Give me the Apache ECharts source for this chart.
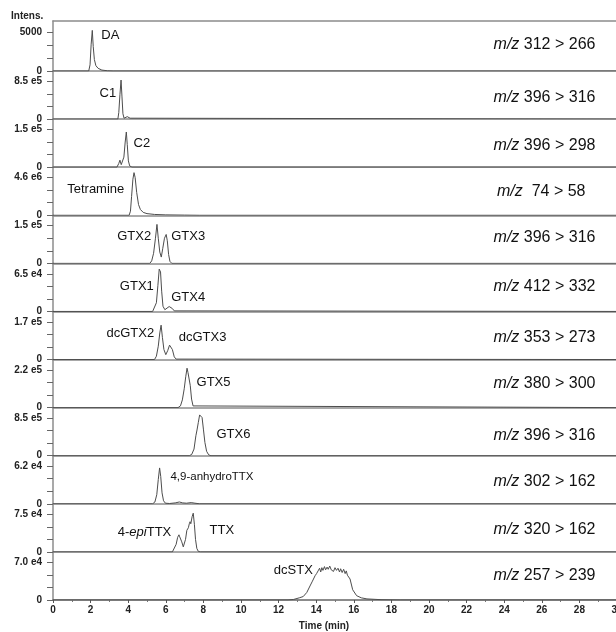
<!DOCTYPE html>
<html>
<head>
<meta charset="utf-8">
<script src="https://cdn.jsdelivr.net/npm/echarts@6/dist/echarts.min.js"></script>
<style>
html,body{margin:0;padding:0;background:#fff;}
#chart{width:616px;height:632px;}
</style>
</head>
<body>
<div id="chart"></div>
<script>
// ---------- data ----------
const timeTicks = [0,2,4,6,8,10,12,14,16,18,20,22,24,26,28,30];
const yTopLabels = ['5000','8.5 e5','1.5 e5','4.6 e6','1.5 e5','6.5 e4','1.7 e5','2.2 e5','8.5 e5','6.2 e4','7.5 e4','7.0 e4'];
const yTopValues = [5000, 8.5e5, 1.5e5, 4.6e6, 1.5e5, 6.5e4, 1.7e5, 2.2e5, 8.5e5, 6.2e4, 7.5e4, 7.0e4];
const transitions = ['312 > 266','396 > 316','396 > 298',' 74 > 58','396 > 316','412 > 332','353 > 273','380 > 300','396 > 316','302 > 162','320 > 162','257 > 239'];

const traceDA = [[0,0],[1.9,0],[1.97,800],[2.03,3500],[2.09,5300],[2.14,3200],[2.2,1500],[2.28,700],[2.4,350],[2.6,120],[2.9,30],[3.2,0],[30,0]];
const traceC1 = [[0,0],[3.45,0],[3.5,1.5e5],[3.56,5.5e5],[3.62,8.8e5],[3.67,5e5],[3.72,1.2e5],[3.78,0.2e5],[3.86,0.1e5],[3.95,0.55e5],[4.02,0.6e5],[4.1,0.2e5],[4.2,0],[30,0]];
const traceC2 = [[0,0],[3.4,0],[3.5,0.15e5],[3.56,0.28e5],[3.63,0.1e5],[3.7,0.05e5],[3.77,0.4e5],[3.84,1.0e5],[3.9,1.4e5],[3.95,0.9e5],[4.01,0.25e5],[4.08,0.05e5],[4.2,0],[30,0]];
const traceTetramine = [[0,0],[4.05,0],[4.12,0.5e6],[4.18,2.3e6],[4.25,4.4e6],[4.31,5.2e6],[4.37,4.6e6],[4.45,2.8e6],[4.55,1.3e6],[4.65,0.7e6],[4.8,0.35e6],[5.0,0.2e6],[5.4,0.1e6],[6.0,0.05e6],[7.0,0.02e6],[7.8,0],[30,0]];
const traceGTX23 = [[0,0],[5.15,0],[5.25,0.1e5],[5.35,0.4e5],[5.45,1.0e5],[5.53,1.55e5],[5.6,1.0e5],[5.68,0.45e5],[5.76,0.25e5],[5.84,0.6e5],[5.93,1.0e5],[6.02,1.15e5],[6.08,0.9e5],[6.15,0.35e5],[6.22,0.08e5],[6.32,0],[30,0]];
const traceGTX14 = [[0,0],[5.3,0],[5.4,0.3e4],[5.5,1.5e4],[5.58,4.5e4],[5.65,7.3e4],[5.72,6.8e4],[5.78,3.5e4],[5.85,0.9e4],[5.95,0.3e4],[6.05,0.5e4],[6.18,0.85e4],[6.26,0.9e4],[6.35,0.5e4],[6.45,0.1e4],[6.55,0],[30,0]];
const traceDcGTX23 = [[0,0],[5.4,0],[5.5,0.15e5],[5.6,0.6e5],[5.68,1.2e5],[5.75,1.55e5],[5.82,1.0e5],[5.9,0.45e5],[6.0,0.22e5],[6.1,0.4e5],[6.2,0.65e5],[6.27,0.72e5],[6.35,0.45e5],[6.45,0.12e5],[6.55,0.02e5],[6.65,0],[30,0]];
const traceGTX5 = [[0,0],[6.65,0],[6.78,0.1e5],[6.88,0.45e5],[6.98,1.1e5],[7.06,1.8e5],[7.13,2.3e5],[7.18,2.05e5],[7.24,1.98e5],[7.3,1.3e5],[7.37,0.5e5],[7.45,0.1e5],[7.55,0],[30,0]];
const traceGTX6 = [[0,0],[7.25,0],[7.38,0.3e5],[7.5,1.5e5],[7.6,4.5e5],[7.66,5.8e5],[7.73,7.5e5],[7.8,9.2e5],[7.86,8.9e5],[7.93,8.6e5],[8.0,6.0e5],[8.08,3.0e5],[8.17,1.0e5],[8.28,0.2e5],[8.4,0],[30,0]];
const traceAnhydroTTX = [[0,0],[5.3,0],[5.42,0.3e4],[5.52,1.5e4],[5.6,4.0e4],[5.67,5.9e4],[5.73,4.5e4],[5.8,1.8e4],[5.88,0.5e4],[5.98,0.1e4],[6.2,0.05e4],[6.5,0.15e4],[6.72,0.3e4],[6.9,0.15e4],[7.1,0.1e4],[7.35,0.2e4],[7.55,0.1e4],[7.8,0],[30,0]];
const traceTTX = [[0,0],[6.35,0],[6.45,0.3e4],[6.55,1.5e4],[6.63,2.9e4],[6.7,3.4e4],[6.74,3.0e4],[6.78,3.3e4],[6.85,2.0e4],[6.93,1.0e4],[6.98,0.9e4],[7.05,2.5e4],[7.12,4.3e4],[7.2,4.8e4],[7.25,5.6e4],[7.29,6.0e4],[7.33,5.6e4],[7.4,7.0e4],[7.46,7.7e4],[7.52,5.5e4],[7.58,2.5e4],[7.65,0.7e4],[7.73,0.1e4],[7.85,0],[30,0]];
const traceDcSTX = [[0,0],[12.5,0],[12.8,0.1e4],[13.1,0.4e4],[13.31,0.64e4],[13.5,1.4e4],[13.67,2.6e4],[13.8,3.5e4],[13.94,4.5e4],[14.02,4.9e4],[14.1,5.4e4],[14.18,5.9e4],[14.24,5.2e4],[14.3,6.0e4],[14.36,5.5e4],[14.44,6.2e4],[14.5,5.6e4],[14.58,6.1e4],[14.64,5.7e4],[14.72,6.3e4],[14.8,5.6e4],[14.86,5.9e4],[14.92,5.3e4],[15.0,6.0e4],[15.08,5.5e4],[15.16,5.9e4],[15.24,5.2e4],[15.3,5.8e4],[15.38,5.1e4],[15.46,5.7e4],[15.54,4.9e4],[15.6,5.4e4],[15.66,4.6e4],[15.72,4.8e4],[15.8,3.9e4],[15.94,1.9e4],[16.15,0.8e4],[16.4,0.4e4],[16.7,0.2e4],[17.5,0.05e4],[18.5,0],[30,0]];

const traces = [traceDA, traceC1, traceC2, traceTetramine, traceGTX23, traceGTX14, traceDcGTX23, traceGTX5, traceGTX6, traceAnhydroTTX, traceTTX, traceDcSTX];

// compound names: [panel, text]
const compoundNames = [
  [0,'DA'],[1,'C1'],[2,'C2'],[3,'Tetramine'],[4,'GTX2'],[4,'GTX3'],[5,'GTX1'],[5,'GTX4'],
  [6,'dcGTX2'],[6,'dcGTX3'],[7,'GTX5'],[8,'GTX6'],[9,'4,9-anhydroTTX'],[10,'4-{i|epi}TTX'],[10,'TTX'],[11,'dcSTX']
];

// ---------- layout (annotation anchors: time, fraction of top tick) ----------
const compoundAnchor = [[2.54,0.94],[2.45,0.68],[4.26,0.63],[0.73,0.68],[3.39,0.72],[6.26,0.72],[3.53,0.66],[6.26,0.38],
  [2.82,0.70],[6.66,0.59],[7.61,0.66],[8.67,0.56],[6.22,0.72],[3.42,0.52],[8.30,0.58],[11.72,0.78]];
const compoundFont = [13,13,13,13,13,13,13,13,13,13,13,13,11.5,13,13,13];
const mzAnchorT = [28.88,28.88,28.88,28.35,28.88,28.88,28.88,28.88,28.88,28.88,28.88,28.88];
const mzAnchorFrac = [0.68,0.58,0.565,0.62,0.68,0.66,0.59,0.63,0.53,0.59,0.58,0.64];

const N = 12;
const LEFT = 53;
const TOP0 = 21, H0 = 50, H = 48.09;
const FONT = '"Liberation Sans", Arial, sans-serif';
const traceColor = '#4d4d4d';
const sepColor = '#8c8c8c';

const grid = [], xAxis = [], yAxis = [], series = [];
for (let i = 0; i < N; i++) {
  const top = i === 0 ? TOP0 : TOP0 + H0 + H * (i - 1);
  const h = i === 0 ? H0 : H;
  grid.push({left: LEFT, width: 564, top: top, height: h, outerBoundsMode: 'none', containLabel: false});
  const L = yTopValues[i];
  const ymax = i === 0 ? L * H0 / 38.3 : L * H / 37.7;
  const last = i === N - 1;
  xAxis.push({
    type: 'value', gridIndex: i, min: 0, max: 30, interval: 2,
    axisLine: {show: true, onZero: false, lineStyle: {color: last ? '#666' : sepColor, width: 1.5}},
    axisTick: {show: last, length: 3, lineStyle: {color: '#555'}},
    minorTick: {show: last, splitNumber: 2, length: 2, lineStyle: {color: '#777'}},
    axisLabel: {show: last, margin: 5, color: '#222', fontSize: 10, fontWeight: 'bold', fontFamily: FONT, showMaxLabel: true, hideOverlap: false},
    splitLine: {show: false},
    name: last ? 'Time (min)' : '',
    nameLocation: 'middle', nameGap: 21,
    nameTextStyle: {color: '#222', fontSize: 10, fontWeight: 'bold', fontFamily: FONT, padding: [0, 22, 0, 0]}
  });
  const lbl = yTopLabels[i];
  yAxis.push({
    type: 'value', gridIndex: i, min: 0, max: ymax,
    axisLine: {show: true, lineStyle: {color: sepColor, width: 1.5}},
    axisTick: {show: true, length: 6, customValues: [0, L/3, 2*L/3, L], lineStyle: {color: '#666'}},
    axisLabel: {show: true, customValues: [0, L], margin: 11, color: '#222', fontSize: 10, fontWeight: 'bold', fontFamily: FONT,
      formatter: v => (v === 0 ? '0' : lbl)},
    splitLine: {show: false}
  });
}
// top border line
xAxis.push({type: 'value', gridIndex: 0, min: 0, max: 30, position: 'top',
  axisLine: {show: true, onZero: false, lineStyle: {color: sepColor, width: 1.5}},
  axisTick: {show: false}, axisLabel: {show: false}, splitLine: {show: false}});

for (let i = 0; i < N; i++) {
  const L = yTopValues[i];
  const marks = [];
  compoundNames.forEach((c, k) => {
    if (c[0] !== i) return;
    const txt = c[1];
    const fs = compoundFont[k];
    marks.push({
      coord: [compoundAnchor[k][0], compoundAnchor[k][1] * L],
      label: {show: true, position: 'right', distance: 0, formatter: () => txt, color: '#111', fontSize: fs, fontFamily: FONT,
        rich: {i: {fontStyle: 'italic', fontSize: fs, fontFamily: FONT, color: '#111'}}}
    });
  });
  const mz = transitions[i];
  marks.push({
    coord: [mzAnchorT[i], mzAnchorFrac[i] * L],
    label: {show: true, position: 'left', distance: 0, formatter: () => '{i|m/z} ' + mz, color: '#111', fontSize: 16, fontFamily: FONT,
      rich: {i: {fontStyle: 'italic', fontSize: 16, fontFamily: FONT, color: '#111'}}}
  });
  series.push({
    type: 'line', xAxisIndex: i, yAxisIndex: i, data: traces[i],
    showSymbol: false, symbol: 'none', smooth: false, clip: true,
    lineStyle: {color: traceColor, width: 1},
    markPoint: {symbol: 'circle', symbolSize: 1, itemStyle: {color: 'rgba(0,0,0,0)'}, data: marks, animation: false}
  });
}

const chart = echarts.init(document.getElementById('chart'), null, {renderer: 'canvas'});
chart.setOption({
  animation: false,
  backgroundColor: '#fff',
  grid, xAxis, yAxis, series,
  graphic: [{type: 'text', left: 11, top: 11, style: {text: 'Intens.', fill: '#222', font: 'bold 10px ' + FONT}}]
});
</script>
</body>
</html>
